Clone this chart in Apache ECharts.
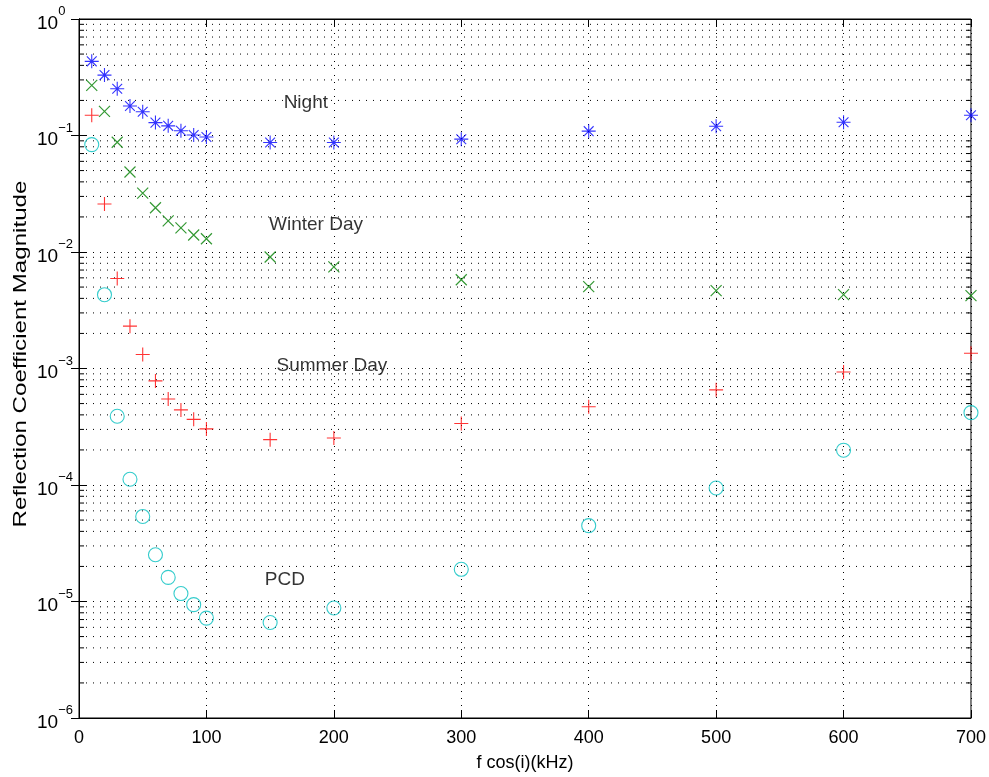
<!DOCTYPE html>
<html>
<head>
<meta charset="utf-8">
<script src="https://cdn.jsdelivr.net/npm/echarts@6/dist/echarts.min.js"></script>
<style>
  html, body { margin: 0; padding: 0; background: #fff; }
  #chart { width: 989px; height: 777px; }
</style>
</head>
<body>
<div id="chart"></div>
<script>
// Frequency samples f·cos(i) in kHz
const freqs = [10, 20, 30, 40, 50, 60, 70, 80, 90, 100, 150, 200, 300, 400, 500, 600, 700];

// Reflection coefficient magnitudes for each ionospheric condition
const night = [0.433, 0.33, 0.252, 0.179, 0.160, 0.129, 0.121, 0.110, 0.101, 0.097,
               0.087, 0.087, 0.093, 0.109, 0.120, 0.130, 0.149];
const winterDay = [0.269, 0.161, 0.0875, 0.0486, 0.032, 0.024, 0.0185, 0.0161, 0.0140, 0.0130,
                   0.00906, 0.00745, 0.00578, 0.00504, 0.00466, 0.00431, 0.00422];
const summerDay = [0.149, 0.0258, 0.00593, 0.00231, 0.00132, 0.000783, 0.000547, 0.000441, 0.000366, 0.000303,
                   0.000245, 0.000253, 0.000337, 0.00047, 0.000656, 0.000933, 0.00135];
const pcd = [0.0835, 0.0043, 0.000389, 0.000112, 0.0000537, 0.0000252, 0.0000161, 0.0000117, 0.0000094, 0.0000072,
             0.0000066, 0.0000088, 0.0000189, 0.0000448, 0.0000942, 0.000199, 0.000418];

// Curve annotations, placed in data coordinates
const annotNames = ['Night', 'Winter Day', 'Summer Day', 'PCD'];
const annotX = [178, 186, 198.5, 161.5];
const annotY = [0.19, 0.017, 0.00105, 0.0000155];

// Axis ticks and titles
const xTicks = [0, 100, 200, 300, 400, 500, 600, 700];
const yDecades = [-6, -5, -4, -3, -2, -1, 0];
const minorMultipliers = [2, 3, 4, 5, 6, 7, 8, 9];
const xTitle = 'f cos(i)(kHz)';
const yTitle = 'Reflection Coefficient Magnitude';

const FONT = 'Liberation Sans, Arial, Helvetica, sans-serif';

// Minor log positions (2..9 × 10^k) for each decade
const minorVals = [];
yDecades.slice(0, -1).forEach(k => {
  minorMultipliers.forEach(m => minorVals.push(m * Math.pow(10, k)));
});

const pair = arr => freqs.map((f, i) => [f, arr[i]]);

// Stroke-only marker outlines
const asterisk = 'path://M0,-10L0,10M-10,0L10,0M-7,-7L7,7M-7,7L7,-7';
const cross = 'path://M-7,-7L7,7M-7,7L7,-7';
const plus = 'path://M0,-10L0,10M-10,0L10,0';

function strokeMarker(name, data, symbol, size, color, width) {
  return {
    name, type: 'scatter', data, symbol, symbolSize: size,
    itemStyle: { color: 'none', borderColor: color, borderWidth: width },
    emphasis: { disabled: true },
    z: 5
  };
}

const chart = echarts.init(document.getElementById('chart'), null, { renderer: 'canvas' });

const dotted = { color: '#000', width: 1, type: [1, 6] };

chart.setOption({
  animation: false,
  backgroundColor: '#fff',
  grid: { left: 79, right: 18, top: 19, bottom: 53, show: true, borderColor: '#000', borderWidth: 1, backgroundColor: 'transparent' },
  graphic: [{
    // rotated y-axis title
    type: 'text', x: 21, y: 354, rotation: Math.PI / 2, scaleX: 1.34, silent: true,
    style: { text: yTitle, font: '18px ' + FONT, fill: '#000', align: 'center', verticalAlign: 'middle' }
  }],
  xAxis: [{
    type: 'value', min: 0, max: 700, interval: 100,
    name: xTitle, nameLocation: 'middle', nameGap: 36,
    nameTextStyle: { fontFamily: FONT, fontSize: 18, color: '#000' },
    axisLine: { lineStyle: { color: '#000', width: 1 } },
    axisTick: { inside: true, length: 8, lineStyle: { color: '#000' } },
    axisLabel: { fontFamily: FONT, fontSize: 18, color: '#000', margin: 11,
                 formatter: v => xTicks.includes(v) ? String(v) : '' },
    splitLine: { show: true, lineStyle: dotted }
  }, {
    type: 'value', min: 0, max: 700, interval: 100, position: 'top',
    axisLine: { lineStyle: { color: '#000' } },
    axisTick: { inside: true, length: 8, lineStyle: { color: '#000' } },
    axisLabel: { show: false }, splitLine: { show: false }
  }],
  yAxis: [{
    type: 'log', logBase: 10, min: 1e-6, max: 1,
    axisLine: { lineStyle: { color: '#000', width: 1 } },
    axisTick: { inside: true, length: 8, lineStyle: { color: '#000' } },
    axisLabel: {
      fontFamily: FONT, color: '#000', margin: 42, align: 'left',
      formatter: v => '{b|10}{e|' + String(Math.round(Math.log10(v))).replace('-', '\u2212') + '}',
      rich: {
        b: { fontFamily: FONT, fontSize: 19, color: '#000', lineHeight: 28, verticalAlign: 'bottom' },
        e: { fontFamily: FONT, fontSize: 13, color: '#000', lineHeight: 14, verticalAlign: 'top' }
      }
    },
    splitLine: { show: true, lineStyle: dotted }
  }, {
    type: 'log', logBase: 10, min: 1e-6, max: 1, position: 'right',
    axisLine: { lineStyle: { color: '#000' } },
    axisTick: { inside: true, length: 8, lineStyle: { color: '#000' } },
    axisLabel: { show: false }, splitLine: { show: false }
  }],
  series: [
    {
      // minor log gridlines with short ticks on both vertical axes
      type: 'custom', silent: true, z: 1,
      data: minorVals.map(v => [0, v]),
      encode: { x: 0, y: 1 },
      renderItem: (params, api) => {
        const v = api.value(1);
        const p0 = api.coord([0, v]);
        const p1 = api.coord([700, v]);
        return {
          type: 'group',
          children: [
            { type: 'line', shape: { x1: p0[0], y1: p0[1], x2: p1[0], y2: p1[1] },
              style: { stroke: '#000', lineWidth: 1, lineDash: [1, 6] } },
            { type: 'line', shape: { x1: p0[0], y1: p0[1], x2: p0[0] + 5, y2: p0[1] },
              style: { stroke: '#000', lineWidth: 1 } },
            { type: 'line', shape: { x1: p1[0] - 5, y1: p1[1], x2: p1[0], y2: p1[1] },
              style: { stroke: '#000', lineWidth: 1 } }
          ]
        };
      }
    },
    strokeMarker('Night', pair(night), asterisk, 14, '#0000ff', 1.1),
    strokeMarker('Winter Day', pair(winterDay), cross, 11, '#008000', 1.2),
    strokeMarker('Summer Day', pair(summerDay), plus, 14, '#ff0000', 1.1),
    strokeMarker('PCD', pair(pcd), 'circle', 14, '#00bfbf', 1.1),
    {
      // text annotations next to each curve
      type: 'scatter', symbolSize: 0, silent: true, z: 6,
      data: annotNames.map((n, i) => ({ name: n, value: [annotX[i], annotY[i]] })),
      label: { show: true, position: 'inside', formatter: p => p.name,
               fontFamily: FONT, fontSize: 19, color: '#000' }
    }
  ]
});
</script>
</body>
</html>
